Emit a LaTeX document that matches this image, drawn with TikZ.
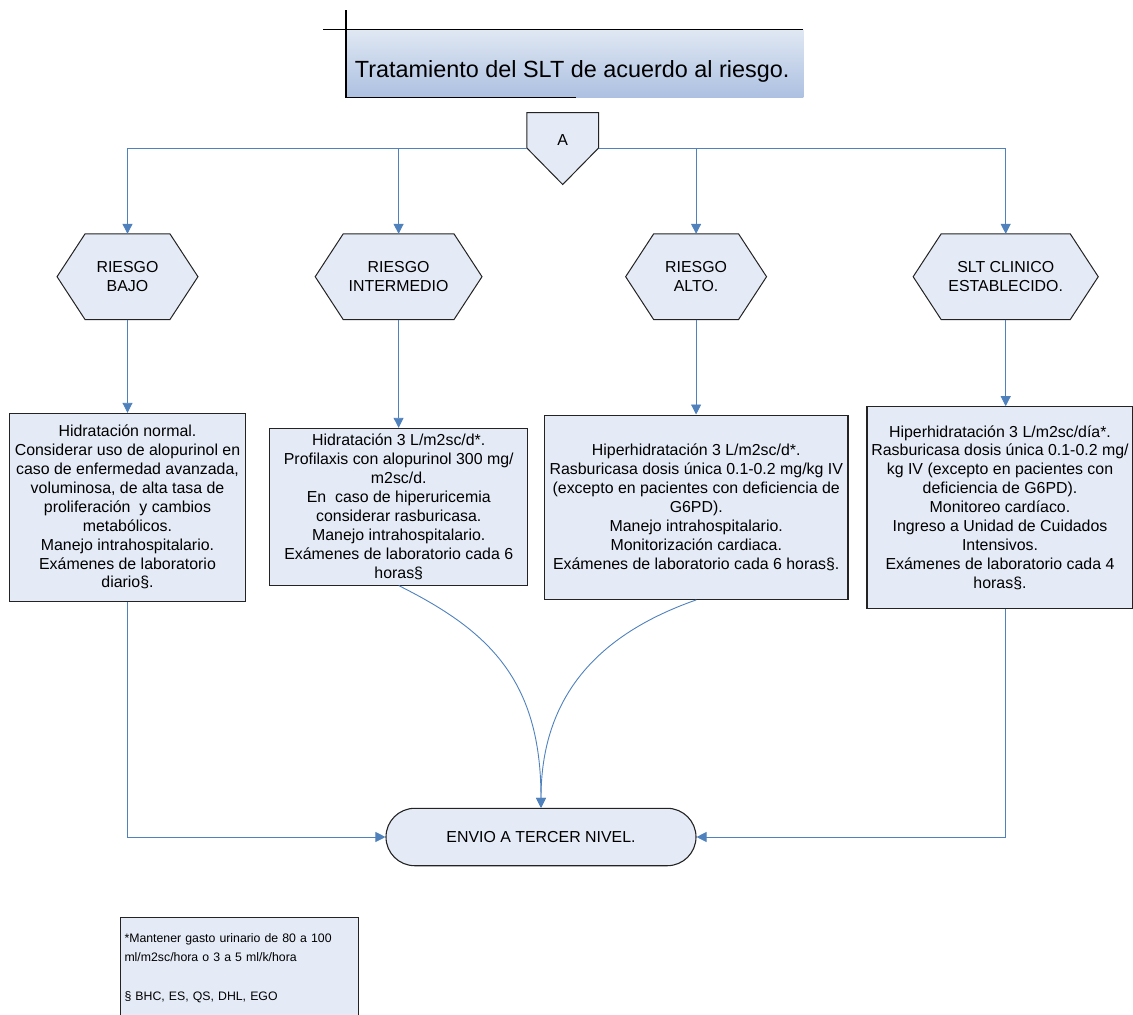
\documentclass[tikz,border=0pt]{standalone}
\usepackage{fontspec}
\setmainfont{Liberation Sans}
\usetikzlibrary{arrows.meta,calc,backgrounds}
\definecolor{boxfill}{RGB}{228,235,246}
\definecolor{conncol}{RGB}{79,129,189}
\definecolor{edgecol}{RGB}{35,35,35}
\definecolor{titletop}{RGB}{224,232,243}
\definecolor{titlebot}{RGB}{172,192,225}
\newcommand{\hexdraw}[1]{\draw[hexshape] (#1.west) -- ([xshift=28pt]#1.north west) -- ([xshift=-28pt]#1.north east) -- (#1.east) -- ([xshift=-28pt]#1.south east) -- ([xshift=28pt]#1.south west) -- cycle;}
\begin{document}
\begin{tikzpicture}[x=1pt,y=-1pt,
  box/.style={draw=edgecol, fill=boxfill, line width=1.1pt, inner sep=0pt, align=center, font=\fontsize{15.9}{18.9}\selectfont},
  hexnode/.style={inner sep=0pt, align=center, font=\fontsize{15.9}{19.3}\selectfont, minimum height=85.3pt},
  hexshape/.style={draw=edgecol, fill=boxfill, line width=1pt},
  conn/.style={draw=conncol, line width=0.9pt, -{Triangle[length=10pt,width=10pt]}},
  titleline/.style={draw=black, line width=1.2pt}]
\useasboundingbox (0,0) rectangle (1133,1015);

% title
\node[inner sep=0pt, minimum width=457.3pt, minimum height=68.4pt, top color=titletop, bottom color=titlebot,
      font=\fontsize{23.4}{28}\selectfont, text height=48.4pt, text depth=20pt] (title) at (574.65,63.5)
      {\hspace*{-5pt}Tratamiento del SLT de acuerdo al riesgo.};
\draw[titleline] (323.3,29.3) -- (803.3,29.3);
\draw[titleline] (346,10) -- (346,97.7) -- (575.7,97.7);

% A connector
\node[inner sep=0pt, minimum width=71.3pt, minimum height=54.6pt, font=\fontsize{15.9}{18.9}\selectfont] (A) at (562.7,140) {A};

% hexagons
\node[hexnode, minimum width=140.5pt] (h1) at (127.5,276.7) {RIESGO\\BAJO};
\node[hexnode, minimum width=166.4pt] (h2) at (398.6,276.7) {RIESGO\\INTERMEDIO};
\node[hexnode, minimum width=140.5pt] (h3) at (696.1,276.7) {RIESGO\\ALTO.};
\node[hexnode, minimum width=184.7pt] (h4) at (1005.7,276.7) {SLT CLINICO\\ESTABLECIDO.};

\begin{pgfonlayer}{background}
\draw[hexshape] (A.north west) -- (A.north east) -- ([yshift=-8pt]A.east) -- ([yshift=-17pt]A.south) -- ([yshift=-8pt]A.west) -- cycle;
\hexdraw{h1}
\hexdraw{h2}
\hexdraw{h3}
\hexdraw{h4}
\end{pgfonlayer}

% boxes
\node[box, minimum width=235.8pt, minimum height=187.7pt] (b1) at (127.5,507.2)
 {Hidratación normal.\\Considerar uso de alopurinol en\\caso de enfermedad avanzada,\\voluminosa, de alta tasa de\\proliferación\ \ y cambios\\metabólicos.\\Manejo intrahospitalario.\\Exámenes de laboratorio\\diario§.};
\node[box, minimum width=258.3pt, minimum height=156.7pt] (b2) at (398.75,506.7)
 {Hidratación 3 L/m2sc/d*.\\Profilaxis con alopurinol 300 mg/\\m2sc/d.\\En\ \ caso de hiperuricemia\\considerar rasburicasa.\\Manejo intrahospitalario.\\Exámenes de laboratorio cada 6\\horas§};
\node[box, minimum width=303.5pt, minimum height=184.3pt] (b3) at (696.25,507.2)
 {Hiperhidratación 3 L/m2sc/d*.\\Rasburicasa dosis única 0.1-0.2 mg/kg IV\\(excepto en pacientes con deficiencia de\\G6PD).\\Manejo intrahospitalario.\\Monitorización cardiaca.\\Exámenes de laboratorio cada 6 horas§.};
\node[box, minimum width=266pt, minimum height=201.6pt] (b4) at (1000,507.5)
 {Hiperhidratación 3 L/m2sc/día*.\\Rasburicasa dosis única 0.1-0.2 mg/\\kg IV (excepto en pacientes con\\deficiencia de G6PD).\\Monitoreo cardíaco.\\Ingreso a Unidad de Cuidados\\Intensivos.\\Exámenes de laboratorio cada 4\\horas§.};

% terminal
\node[box, minimum width=310pt, minimum height=57.4pt, rounded corners=28.7pt] (env) at (541,837) {ENVIO A TERCER NIVEL.};

% legend
\node[draw=edgecol, fill=boxfill, line width=1pt, anchor=north west, inner xsep=4.5pt, inner ysep=0pt,
      text width=229.2pt, align=left, text height=25pt, text depth=78.3pt,
      font=\fontsize{12.3}{19.5}\selectfont] (leg) at (119.5,916.7)
 {*Mantener gasto urinario de 80 a 100\\ml/m2sc/hora o 3 a 5 ml/k/hora\\[19.5pt]§ BHC, ES, QS, DHL, EGO};

% connectors
\draw[conn] ([yshift=-8.5pt]A.west) -| (h1.north);
\draw[conn] ([yshift=-8.5pt]A.west) -| (h2.north);
\draw[conn] ([yshift=-8.5pt]A.east) -| (h3.north);
\draw[conn] ([yshift=-8.5pt]A.east) -| (h4.north);
\draw[conn] (h1.south) -- (h1.south |- b1.north);
\draw[conn] (h2.south) -- (h2.south |- b2.north);
\draw[conn] (h3.south) -- (h3.south |- b3.north);
\draw[conn] (h4.south) -- (h4.south |- b4.north);
\draw[conn] (h1.south |- b1.south) |- (env.west);
\draw[conn] (h4.south |- b4.south) |- (env.east);
\draw[conn] (b2.south) .. controls +(90,45) and +(0,-128) .. (env.north);
\draw[conn] (b3.south) .. controls +(-100,35) and +(0,-110) .. (env.north);
\end{tikzpicture}
\end{document}
